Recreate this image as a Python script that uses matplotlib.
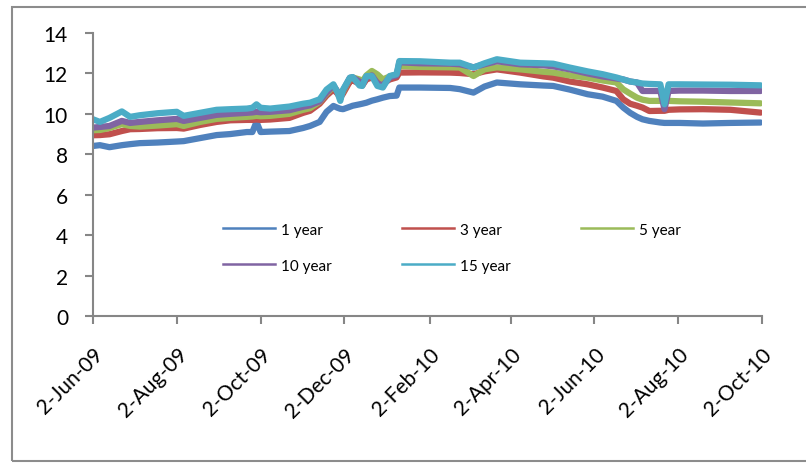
import matplotlib
matplotlib.use('Agg')
import matplotlib.pyplot as plt
from matplotlib.lines import Line2D
from matplotlib.patches import Rectangle
import pandas as pd

plt.rcParams['font.family'] = ['Lato', 'DejaVu Sans']

dates = ['2009-06-02', '2009-06-07', '2009-06-14', '2009-06-23', '2009-06-29',
         '2009-07-06', '2009-07-19', '2009-08-02', '2009-08-07', '2009-08-19',
         '2009-08-31', '2009-09-10', '2009-09-22', '2009-09-26', '2009-09-29',
         '2009-10-02', '2009-10-09', '2009-10-23', '2009-11-02', '2009-11-07',
         '2009-11-14', '2009-11-19', '2009-11-24', '2009-11-27', '2009-11-29',
         '2009-12-01', '2009-12-06', '2009-12-08', '2009-12-13', '2009-12-15',
         '2009-12-18', '2009-12-22', '2009-12-26', '2009-12-30', '2010-01-04',
         '2010-01-09', '2010-01-11', '2010-01-26', '2010-02-17', '2010-02-24',
         '2010-03-06', '2010-03-14', '2010-03-23', '2010-04-09', '2010-04-26',
         '2010-05-03', '2010-05-15', '2010-05-28', '2010-06-08', '2010-06-18',
         '2010-06-23', '2010-06-28', '2010-07-03', '2010-07-07', '2010-07-12',
         '2010-07-20', '2010-07-23', '2010-07-26', '2010-08-03', '2010-08-20',
         '2010-09-09', '2010-10-01']

y1 = [8.41, 8.45, 8.35, 8.45, 8.50, 8.55, 8.58, 8.63, 8.65, 8.80,
      8.95, 9.00, 9.10, 9.10, 9.60, 9.10, 9.12, 9.15, 9.30, 9.40,
      9.60, 10.10, 10.39, 10.30, 10.25, 10.23, 10.35, 10.40, 10.47, 10.50,
      10.55, 10.65, 10.72, 10.80, 10.88, 10.90, 11.30, 11.30, 11.28, 11.22,
      11.05, 11.35, 11.55, 11.46, 11.40, 11.38, 11.20, 10.97, 10.85, 10.64,
      10.31, 10.05, 9.85, 9.73, 9.65, 9.57, 9.55, 9.55, 9.55, 9.52,
      9.55, 9.57]
y3 = [8.94, 8.95, 8.99, 9.15, 9.24, 9.25, 9.29, 9.30, 9.27, 9.45,
      9.60, 9.68, 9.70, 9.70, 9.72, 9.70, 9.72, 9.80, 10.05, 10.15,
      10.50, 10.90, 11.20, 11.00, 10.80, 11.00, 11.60, 11.65, 11.50, 11.40,
      11.70, 11.80, 11.60, 11.50, 11.70, 11.80, 12.04, 12.05, 12.04, 12.02,
      11.96, 12.10, 12.20, 12.04, 11.85, 11.79, 11.60, 11.46, 11.30, 11.13,
      10.72, 10.50, 10.40, 10.31, 10.14, 10.15, 10.15, 10.20, 10.22, 10.23,
      10.20, 10.06]
y5 = [9.19, 9.20, 9.30, 9.49, 9.40, 9.37, 9.42, 9.49, 9.40, 9.60,
      9.75, 9.80, 9.85, 9.87, 9.90, 9.88, 9.90, 10.00, 10.20, 10.28,
      10.60, 11.00, 11.35, 11.10, 10.85, 11.10, 11.75, 11.80, 11.70, 11.60,
      11.90, 12.12, 11.95, 11.70, 11.85, 11.95, 12.37, 12.32, 12.30, 12.29,
      11.87, 12.20, 12.30, 12.20, 12.08, 12.04, 11.90, 11.79, 11.65, 11.55,
      11.21, 11.00, 10.80, 10.70, 10.64, 10.64, 10.64, 10.64, 10.62, 10.60,
      10.56, 10.52]
y10 = [9.32, 9.35, 9.40, 9.65, 9.55, 9.60, 9.68, 9.75, 9.65, 9.80,
       9.95, 10.00, 10.05, 10.07, 10.10, 10.08, 10.10, 10.18, 10.35, 10.42,
       10.62, 11.05, 11.40, 11.10, 10.80, 11.15, 11.78, 11.80, 11.60, 11.45,
       11.80, 11.90, 11.50, 11.40, 11.80, 11.90, 12.55, 12.50, 12.48, 12.45,
       12.30, 12.45, 12.60, 12.45, 12.40, 12.35, 12.20, 12.00, 11.85, 11.75,
       11.70, 11.60, 11.55, 11.13, 11.13, 11.13, 10.23, 11.13, 11.15, 11.15,
       11.13, 11.13]
y15 = [9.73, 9.60, 9.80, 10.12, 9.85, 9.93, 10.03, 10.10, 9.90, 10.05,
       10.20, 10.23, 10.26, 10.30, 10.47, 10.30, 10.26, 10.36, 10.50, 10.55,
       10.72, 11.20, 11.46, 11.05, 10.64, 11.20, 11.79, 11.82, 11.40, 11.38,
       11.87, 11.87, 11.38, 11.30, 11.87, 11.96, 12.61, 12.60, 12.53, 12.53,
       12.29, 12.50, 12.70, 12.53, 12.50, 12.48, 12.29, 12.10, 11.96, 11.80,
       11.70, 11.60, 11.55, 11.50, 11.48, 11.46, 10.47, 11.46, 11.46, 11.45,
       11.44, 11.41]

series = [('1 year', y1), ('3 year', y3), ('5 year', y5), ('10 year', y10), ('15 year', y15)]
colors = ['#4F81BD', '#C0504D', '#9BBB59', '#8064A2', '#4BACC6']

tick_dates = ['2009-06-02', '2009-08-02', '2009-10-02', '2009-12-02', '2010-02-02',
              '2010-04-02', '2010-06-02', '2010-08-02', '2010-10-02']
tick_labels = ['2-Jun-09', '2-Aug-09', '2-Oct-09', '2-Dec-09', '2-Feb-10',
               '2-Apr-10', '2-Jun-10', '2-Aug-10', '2-Oct-10']

x = pd.to_datetime(dates)

fig = plt.figure(figsize=(8.06, 4.64), dpi=100)
ax = fig.add_axes([0.1154, 0.3168, 0.83, 0.61])

for (name, vals), c in zip(series, colors):
    ax.plot(x, vals, color=c, lw=4.5, solid_joinstyle='round', solid_capstyle='round')

ax.set_xlim(pd.Timestamp('2009-06-02'), pd.Timestamp('2010-10-02'))
ax.set_ylim(0, 14)
ax.set_yticks(range(0, 15, 2))
ax.set_xticks(pd.to_datetime(tick_dates))
ax.set_xticklabels(tick_labels, rotation=45, ha='right', va='top', rotation_mode='anchor')

for s in ['top', 'right']:
    ax.spines[s].set_visible(False)
for s in ['left', 'bottom']:
    ax.spines[s].set_color('#868686')
    ax.spines[s].set_linewidth(1.5)
ax.tick_params(axis='y', length=6, width=1.5, color='#868686', labelsize=15, pad=12)
ax.tick_params(axis='x', length=6, width=1.5, color='#868686', labelsize=15, pad=14)

# legend is filled column by column, so reorder to read row-wise like Excel
order = [0, 3, 1, 4, 2]
handles = [Line2D([], [], color=colors[i], lw=1.8) for i in order]
labels = [series[i][0] for i in order]
ax.legend(handles, labels, ncol=3, frameon=False, fontsize=11,
          loc='upper left', bbox_to_anchor=(0.194, 0.33), borderpad=0, borderaxespad=0,
          handlelength=3.4, handletextpad=0.4, columnspacing=4.6, labelspacing=1.45)

fig.patches.append(Rectangle((0.0149, 0.0043), 1.0, 0.9785, transform=fig.transFigure,
                             fill=False, edgecolor='#8c8c8c', lw=1.5))

plt.savefig('out.png', dpi=100)
